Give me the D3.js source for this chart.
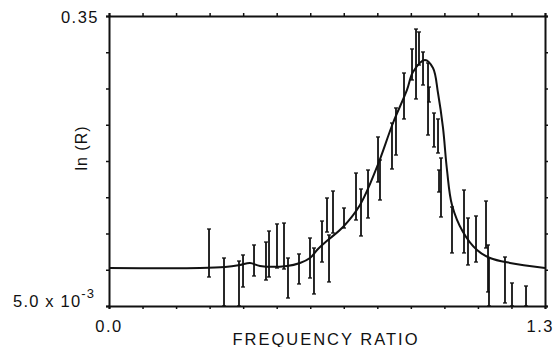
<!DOCTYPE html>
<html>
<head>
<meta charset="utf-8">
<script src="https://cdn.jsdelivr.net/npm/d3@7"></script>
<style>
  body { margin: 0; background: #fff; }
  svg text { font-family: "Liberation Sans", "DejaVu Sans", sans-serif; fill: #111; }
</style>
</head>
<body>
<svg id="chart" width="558" height="347"></svg>
<script>
// fitted curve (frequency ratio, ln R)
const curveX = [0, 0.2713, 0.3459, 0.3906, 0.4204, 0.4502, 0.5307, 0.5695, 0.5993, 0.6232, 0.6530, 0.6977, 0.7484, 0.7991, 0.8468, 0.8885, 0.9064, 0.9422, 0.9661, 0.9810, 0.9959, 1.0078, 1.0227, 1.0555, 1.0973, 1.1360, 1.1957, 1.3];
const curveY = [0.0502, 0.0502, 0.0514, 0.0538, 0.0562, 0.0526, 0.0526, 0.0562, 0.0621, 0.0728, 0.0835, 0.0990, 0.1252, 0.1704, 0.2227, 0.2620, 0.2834, 0.2977, 0.2881, 0.2584, 0.2168, 0.1668, 0.1252, 0.0930, 0.0716, 0.0621, 0.0562, 0.0502];

// measured points with error bars
const barX  = [0.2982, 0.3429, 0.3876, 0.3996, 0.4324, 0.4681, 0.4771, 0.5009, 0.5218, 0.5337, 0.5665, 0.5993, 0.6112, 0.6351, 0.6500, 0.6560, 0.6679, 0.7007, 0.7365, 0.7514, 0.7723, 0.8021, 0.8080, 0.8438, 0.8557, 0.8796, 0.9035, 0.9154, 0.9243, 0.9363, 0.9512, 0.9541, 0.9690, 0.9810, 0.9840, 0.9899, 1.0227, 1.0585, 1.0704, 1.0943, 1.1241, 1.1301, 1.1330, 1.1807, 1.2016, 1.2434];
const barHi = [0.0966, 0.0621, 0.0585, 0.0657, 0.0776, 0.0811, 0.0942, 0.1026, 0.1037, 0.0621, 0.0669, 0.0859, 0.0740, 0.1061, 0.1335, 0.0895, 0.1418, 0.1216, 0.1632, 0.1442, 0.1668, 0.2061, 0.1787, 0.2227, 0.2406, 0.2822, 0.3108, 0.3345, 0.3310, 0.3072, 0.2941, 0.2655, 0.2346, 0.2275, 0.1668, 0.1811, 0.1228, 0.1430, 0.1097, 0.1121, 0.1299, 0.0776, 0.0621, 0.0633, 0.0324, 0.0288];
const barLo = [0.0395, 0.0050, 0.0050, 0.0276, 0.0407, 0.0359, 0.0395, 0.0502, 0.0490, 0.0145, 0.0312, 0.0383, 0.0193, 0.0573, 0.0930, 0.0336, 0.0918, 0.0978, 0.1073, 0.0883, 0.1097, 0.1525, 0.1311, 0.1680, 0.1846, 0.2275, 0.2739, 0.2513, 0.2917, 0.2679, 0.2084, 0.2477, 0.1942, 0.1870, 0.1406, 0.1109, 0.0681, 0.0681, 0.0538, 0.0573, 0.0740, 0.0217, 0.0050, 0.0086, 0.0050, 0.0050];

const xTicks = d3.range(0, 1.3001, 0.1);
const yTicks = d3.range(9).map(i => 0.005 + i * 0.345 / 8);

const width = 558, height = 347;
const margin = { top: 16, right: 13, bottom: 41, left: 109 };
const svg = d3.select("#chart");

const x = d3.scaleLinear().domain([0, 1.3]).range([margin.left, width - margin.right]);
const y = d3.scaleLinear().domain([0.005, 0.35]).range([height - margin.bottom, margin.top]);

const bars = barX.map((v, i) => ({ x: v, lo: barLo[i], hi: barHi[i] }));

// error bars
const eb = svg.append("g").attr("stroke", "#111").attr("stroke-width", 1.8);
eb.selectAll("line.bar")
  .data(bars)
  .join("line")
  .attr("class", "bar")
  .attr("x1", d => x(d.x)).attr("x2", d => x(d.x))
  .attr("y1", d => y(d.hi)).attr("y2", d => y(d.lo));
eb.selectAll("line.capHi")
  .data(bars)
  .join("line")
  .attr("class", "capHi")
  .attr("stroke-width", 1.3)
  .attr("x1", d => x(d.x) - 2).attr("x2", d => x(d.x) + 2)
  .attr("y1", d => y(d.hi)).attr("y2", d => y(d.hi));
eb.selectAll("line.capLo")
  .data(bars)
  .join("line")
  .attr("class", "capLo")
  .attr("stroke-width", 1.3)
  .attr("x1", d => x(d.x) - 2).attr("x2", d => x(d.x) + 2)
  .attr("y1", d => y(d.lo)).attr("y2", d => y(d.lo));

// fitted curve
const line = d3.line()
  .x(d => x(d[0]))
  .y(d => y(d[1]))
  .curve(d3.curveCatmullRom.alpha(0.5));
svg.append("path")
  .datum(curveX.map((v, i) => [v, curveY[i]]))
  .attr("fill", "none")
  .attr("stroke", "#111")
  .attr("stroke-width", 2)
  .attr("d", line);

// axes: ticks on all four sides, no labels
const tick = 3;
svg.append("g").attr("transform", `translate(0,${height - margin.bottom})`)
  .call(d3.axisBottom(x).tickValues(xTicks).tickSize(tick).tickFormat(""));
svg.append("g").attr("transform", `translate(0,${margin.top})`)
  .call(d3.axisTop(x).tickValues(xTicks).tickSize(tick).tickFormat(""));
svg.append("g").attr("transform", `translate(${margin.left},0)`)
  .call(d3.axisLeft(y).tickValues(yTicks).tickSize(tick).tickFormat(""));
svg.append("g").attr("transform", `translate(${width - margin.right},0)`)
  .call(d3.axisRight(y).tickValues(yTicks).tickSize(tick).tickFormat(""));
svg.selectAll(".domain").attr("stroke", "#111").attr("stroke-width", 2);
svg.selectAll(".tick line").attr("stroke", "#111").attr("stroke-width", 1.5);

// labels
svg.append("text")
  .attr("x", 99).attr("y", 23)
  .attr("text-anchor", "end")
  .attr("font-size", 16.5).attr("letter-spacing", 1.5)
  .text("0.35");

const yMin = svg.append("text")
  .attr("x", 13).attr("y", 307)
  .attr("font-size", 16.5).attr("letter-spacing", 1.2);
yMin.append("tspan").text("5.0 x 10");
yMin.append("tspan").attr("dy", -9).attr("font-size", 13).text("-3");

svg.append("text")
  .attr("x", x(0)).attr("y", 332)
  .attr("text-anchor", "middle")
  .attr("font-size", 16.5).attr("letter-spacing", 1.5)
  .text("0.0");
svg.append("text")
  .attr("x", 554).attr("y", 332)
  .attr("text-anchor", "end")
  .attr("font-size", 16.5).attr("letter-spacing", 1.5)
  .text("1.3");

svg.append("text")
  .attr("x", 326).attr("y", 345)
  .attr("text-anchor", "middle")
  .attr("font-size", 16.5).attr("letter-spacing", 2)
  .text("FREQUENCY RATIO");

svg.append("text")
  .attr("transform", "translate(87,148) rotate(-90)")
  .attr("text-anchor", "middle")
  .attr("font-size", 16).attr("letter-spacing", 1)
  .text("ln (R)");
</script>
</body>
</html>
